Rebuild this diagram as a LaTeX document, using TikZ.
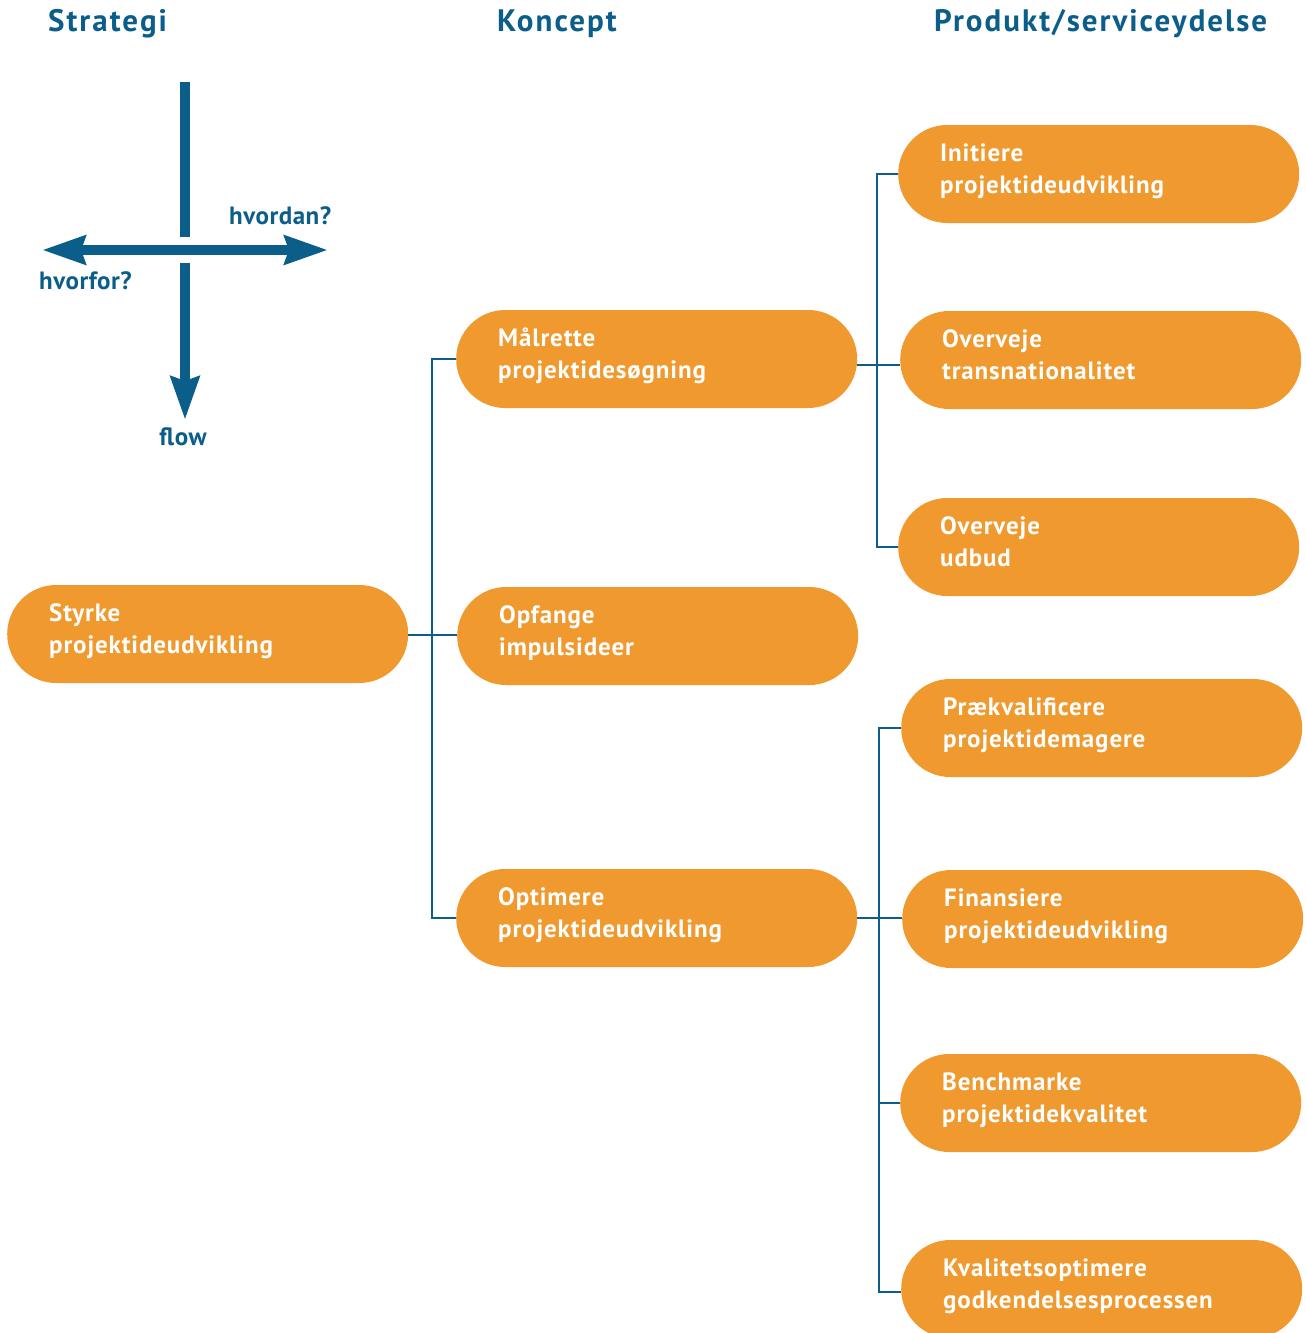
\documentclass[tikz,border=0pt]{standalone}
\usepackage{fontspec}
\setmainfont{PT Sans}
\newfontfamily\headfont[LetterSpace=6.5]{PT Sans Bold}
\newfontfamily\boxfont[LetterSpace=3.5]{PT Sans Bold}
\newfontfamily\labelfont[LetterSpace=2]{PT Sans Bold}
\usetikzlibrary{arrows.meta}
\definecolor{flowblue}{HTML}{0B5E8A}
\definecolor{boxorange}{HTML}{EF992E}
\tikzset{
  box/.style={fill=boxorange, rounded corners=49pt, minimum width=401pt,
    minimum height=98pt, inner sep=0pt, anchor=west, text=white,
    font=\boxfont\fontsize{25}{32}\selectfont, align=left,
    text width=317pt, text depth=43pt},
  link/.style={draw=flowblue, line width=2.6pt},
  header/.style={text=flowblue, font=\headfont\fontsize{31}{34}\selectfont, anchor=west, inner sep=0pt},
  axislabel/.style={text=flowblue, font=\labelfont\fontsize{25}{28}\selectfont, inner sep=0pt},
  axis/.style={draw=flowblue, line width=10pt},
  tip/.style={-{Stealth[length=43pt, width=28pt, inset=4pt]}},
}
\begin{document}
\begin{tikzpicture}[x=1pt, y=-1pt]
\useasboundingbox (0,0) rectangle (1306,1333);
\clip (0,0) rectangle (1306,1333);

% column headings
\node[header] (hstrat) at (48,24) {Strategi};
\node[header] (hkonc) at (497,24) {Koncept};
\node[header] (hprod) at (934,24) {Produkt/serviceydelse};

% orientation cross
\coordinate (vtop) at (185,82);
\coordinate (vgap) at (185,237);
\coordinate (vlow) at (185,263);
\coordinate (vend) at (185,420);
\coordinate (hleft) at (42,250);
\coordinate (hright) at (328,250);
\draw[axis] (vtop) -- (vgap);
\draw[axis, tip] (vlow) -- (vend);
\draw[axis, {Stealth[length=43pt, width=28pt, inset=4pt]}-{Stealth[length=43pt, width=28pt, inset=4pt]}] (hleft) -- (hright);
\node[axislabel, anchor=west] (lhow) at (229,216) {hvordan?};
\node[axislabel, anchor=west] (lwhy) at (39,281) {hvorfor?};
\node[axislabel] (lflow) at (183,437) {flow};

% strategy
\node[box] (sty) at (7,634) {Styrke\\projektideudvikling};

% concepts
\node[box] (mal) at (456,359) {Målrette\\projektidesøgning};
\node[box] (opf) at (457,636) {Opfange\\impulsideer};
\node[box] (opt) at (456,918) {Optimere\\projektideudvikling};

% products / services
\node[box] (ini) at (898,174) {Initiere\\projektideudvikling};
\node[box] (ovt) at (900,360) {Overveje\\transnationalitet};
\node[box] (ovu) at (898,547) {Overveje\\udbud};
\node[box] (pra) at (901,728) {Prækvalificere\\projektidemagere};
\node[box] (fin) at (902,919) {Finansiere\\projektideudvikling};
\node[box] (ben) at (900,1103) {Benchmarke\\projektidekvalitet};
\node[box] (kva) at (901,1289) {Kvalitetsoptimere\\godkendelsesprocessen};

% trunk junctions
\coordinate (jL) at (432,635);
\coordinate (jA) at (877,365);
\coordinate (jB) at (879,918);

% connectors
\draw[link] (jL -| sty.east) -- (jL -| opf.west);
\draw[link] (mal.west) -| (jL) |- (opt.west);
\draw[link] (jA -| mal.east) -- (jA -| ovt.west);
\draw[link] (ini.west) -| (jA) |- (ovu.west);
\draw[link] (jB -| opt.east) -- (jB -| fin.west);
\draw[link] (pra.west) -| (jB) |- ([yshift=-3pt]kva.west);
\draw[link] (jB) |- (ben.west);
\end{tikzpicture}
\end{document}
